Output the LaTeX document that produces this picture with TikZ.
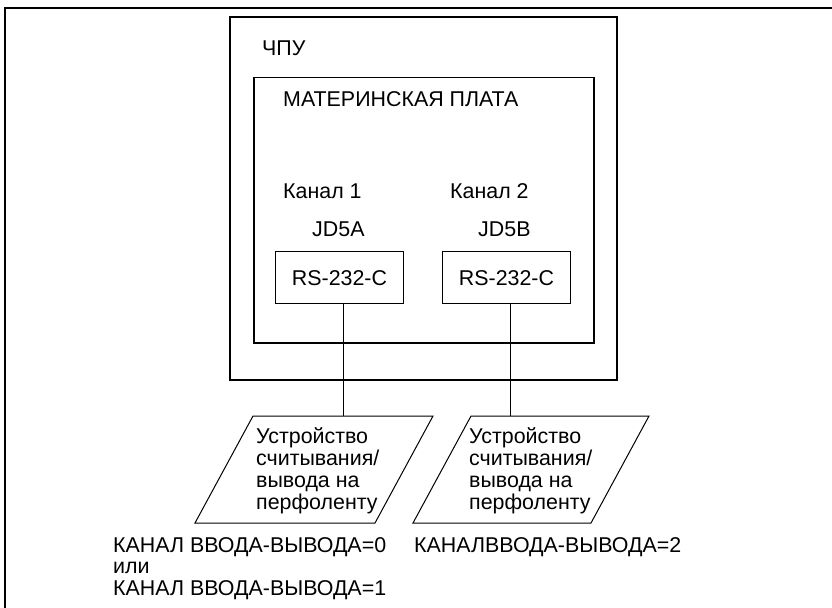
\documentclass[tikz,border=0pt]{standalone}
\usepackage{fontspec}
\setmainfont{Liberation Sans}
\begin{document}
\begin{tikzpicture}[x=1bp,y=-1bp,
  txt/.style={font=\fontsize{21.4bp}{22bp}\selectfont},
  box/.style={draw, inner sep=0pt, anchor=north west},
  lbl/.style={txt, inner sep=0pt, anchor=base west},
  multi/.style={lbl, align=left},
  thin line/.style={line width=1bp}]
\useasboundingbox (0,0) rectangle (832,608);
\draw[line width=1.2bp] (5,620) -- (5,8) -- (840,8);
% boxes
\node[box, line width=2bp, minimum width=387bp, minimum height=363bp] (cnc) at (229,16) {};
\node[box, line width=1.5bp, minimum width=340bp, minimum height=265bp] (mb) at (253,77) {};
\node[box, thin line, minimum width=128bp, minimum height=52bp] (rs1) at (275,251) {};
\node[box, thin line, minimum width=128bp, minimum height=52bp] (rs2) at (442,251) {};
\node[txt, inner sep=0pt, anchor=base] (rs1t) at ([yshift=-8bp]rs1.center) {RS-232-C};
\node[txt, inner sep=0pt, anchor=base] (rs2t) at ([yshift=-8bp]rs2.center) {RS-232-C};
% labels
\node[lbl] (cnclbl) at (262,56) {ЧПУ};
\node[lbl] (mblbl) at (283,107) {МАТЕРИНСКАЯ ПЛАТА};
\node[lbl] (ch1) at (283,199) {Канал 1};
\node[lbl] (ch2) at (450,199) {Канал 2};
\node[lbl] (jd5a) at (312,237) {JD5A};
\node[lbl] (jd5b) at (478,237) {JD5B};
% parallelograms
\coordinate (p1top) at (343,416);
\coordinate (p2top) at (510,416);
\draw[thin line] (253,416) -- (433,416) -- (375,523) -- (195,523) -- cycle;
\draw[thin line] (471,416) -- (649,416) -- (591,523) -- (413,523) -- cycle;
\node[multi] (dev1) at (256,509) {Устройство\\считывания/\\вывода на\\перфоленту};
\node[multi] (dev2) at (469,509) {Устройство\\считывания/\\вывода на\\перфоленту};
% connectors
\draw[thin line] (rs1.south -| p1top) -- (p1top);
\draw[thin line] (rs2.south -| p2top) -- (p2top);
% bottom texts
\node[lbl, align=left, font=\fontsize{21.4bp}{21.5bp}\selectfont] (io1) at (113,595) {КАНАЛ ВВОДА-ВЫВОДА=0\\или\\КАНАЛ ВВОДА-ВЫВОДА=1};
\node[lbl] (io2) at (414,552) {КАНАЛВВОДА-ВЫВОДА=2};
\end{tikzpicture}
\end{document}
